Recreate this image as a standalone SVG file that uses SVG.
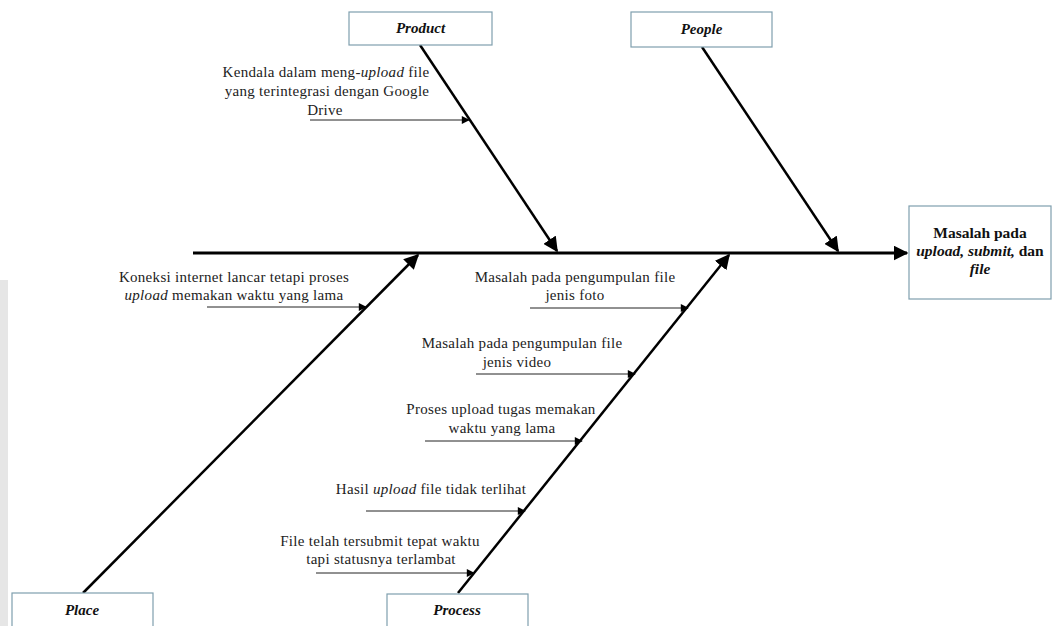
<svg xmlns="http://www.w3.org/2000/svg" width="1052" height="626" viewBox="0 0 1052 626">
<style>
.box{fill:#fff;stroke:#7f9fae;stroke-width:1.2}
.lbl{font-family:'Liberation Serif','Times New Roman','DejaVu Serif',serif;font-size:15px;font-weight:bold;font-style:italic;fill:#111;text-anchor:middle}
.t{font-family:'Liberation Serif','Times New Roman','DejaVu Serif',serif;font-size:15px;fill:#222;text-anchor:middle;letter-spacing:0.3px}
.eff{font-family:'Liberation Serif','Times New Roman','DejaVu Serif',serif;font-size:15.5px;font-weight:bold;fill:#111;text-anchor:middle}
.spine{stroke:#000;stroke-width:3;fill:none}
.bone{stroke:#000;stroke-width:2.5;fill:none}
.sub{stroke:#222;stroke-width:1;fill:none}
</style>
<defs>
<marker id="big" viewBox="0 0 10 10" refX="9" refY="5" markerWidth="5" markerHeight="5" markerUnits="strokeWidth" orient="auto"><path d="M0,0 L10,5 L0,10 z" fill="#000"/></marker>
<marker id="bone" viewBox="0 0 10 10" refX="9" refY="5" markerWidth="6" markerHeight="6" markerUnits="strokeWidth" orient="auto"><path d="M0,0 L10,5 L0,10 z" fill="#000"/></marker>
<marker id="small" viewBox="0 0 10 10" refX="9" refY="5" markerWidth="9" markerHeight="8" markerUnits="strokeWidth" orient="auto"><path d="M0,0 L10,5 L0,10 z" fill="#000"/></marker>
</defs>
<rect width="1052" height="626" fill="#fff"/>
<rect x="0" y="280" width="8" height="346" fill="#e6e6e6"/>

<g id="connectors">
<line class="spine" x1="193" y1="253" x2="907" y2="253" marker-end="url(#big)"/>
<line class="bone" x1="420" y1="45" x2="557" y2="251" marker-end="url(#bone)"/>
<line class="bone" x1="702" y1="47" x2="838" y2="251" marker-end="url(#bone)"/>
<line class="bone" x1="83" y1="593" x2="418" y2="255" marker-end="url(#bone)"/>
<line class="bone" x1="458" y1="593" x2="729" y2="255" marker-end="url(#bone)"/>
<line class="sub" x1="310" y1="120" x2="469" y2="120" marker-end="url(#small)"/>
<line class="sub" x1="207" y1="307" x2="366" y2="307" marker-end="url(#small)"/>
<line class="sub" x1="530" y1="308" x2="688" y2="308" marker-end="url(#small)"/>
<line class="sub" x1="476" y1="374" x2="635" y2="374" marker-end="url(#small)"/>
<line class="sub" x1="425" y1="441" x2="582" y2="441" marker-end="url(#small)"/>
<line class="sub" x1="366" y1="511" x2="525" y2="511" marker-end="url(#small)"/>
<line class="sub" x1="316" y1="573" x2="474" y2="573" marker-end="url(#small)"/>
</g>

<g id="product">
<rect class="box" x="349" y="12" width="143" height="33"/>
<text class="lbl" x="420.5" y="33">Product</text>
</g>
<g id="people">
<rect class="box" x="631" y="12" width="141" height="35"/>
<text class="lbl" x="701.5" y="34">People</text>
</g>
<g id="place">
<rect class="box" x="12" y="593" width="141" height="40"/>
<text class="lbl" x="82" y="615">Place</text>
</g>
<g id="process">
<rect class="box" x="387" y="594" width="141" height="40"/>
<text class="lbl" x="457" y="615">Process</text>
</g>
<g id="effect">
<rect class="box" x="909" y="206" width="142" height="93"/>
<text class="eff" x="980" y="238">Masalah pada</text>
<text class="eff" x="980" y="256"><tspan font-style="italic">upload, submit,</tspan> dan</text>
<text class="eff" x="980" y="274" font-style="italic">file</text>
</g>

<g id="cause-kendala">
<text class="t" x="326" y="77">Kendala dalam meng-<tspan font-style="italic">upload</tspan> file</text>
<text class="t" x="327" y="96">yang terintegrasi dengan Google</text>
<text class="t" x="325" y="115">Drive</text>
</g>
<g id="cause-koneksi">
<text class="t" x="234" y="282">Koneksi internet lancar tetapi proses</text>
<text class="t" x="234" y="300"><tspan font-style="italic">upload</tspan> memakan waktu yang lama</text>
</g>
<g id="cause-foto">
<text class="t" x="575" y="282">Masalah pada pengumpulan file</text>
<text class="t" x="575" y="300">jenis foto</text>
</g>
<g id="cause-video">
<text class="t" x="522" y="348">Masalah pada pengumpulan file</text>
<text class="t" x="517" y="367">jenis video</text>
</g>
<g id="cause-proses">
<text class="t" x="501" y="414">Proses upload tugas memakan</text>
<text class="t" x="502" y="433">waktu yang lama</text>
</g>
<g id="cause-hasil">
<text class="t" x="431" y="494">Hasil <tspan font-style="italic">upload</tspan> file tidak terlihat</text>
</g>
<g id="cause-file">
<text class="t" x="380" y="546">File telah tersubmit tepat waktu</text>
<text class="t" x="381" y="564">tapi statusnya terlambat</text>
</g>
</svg>
